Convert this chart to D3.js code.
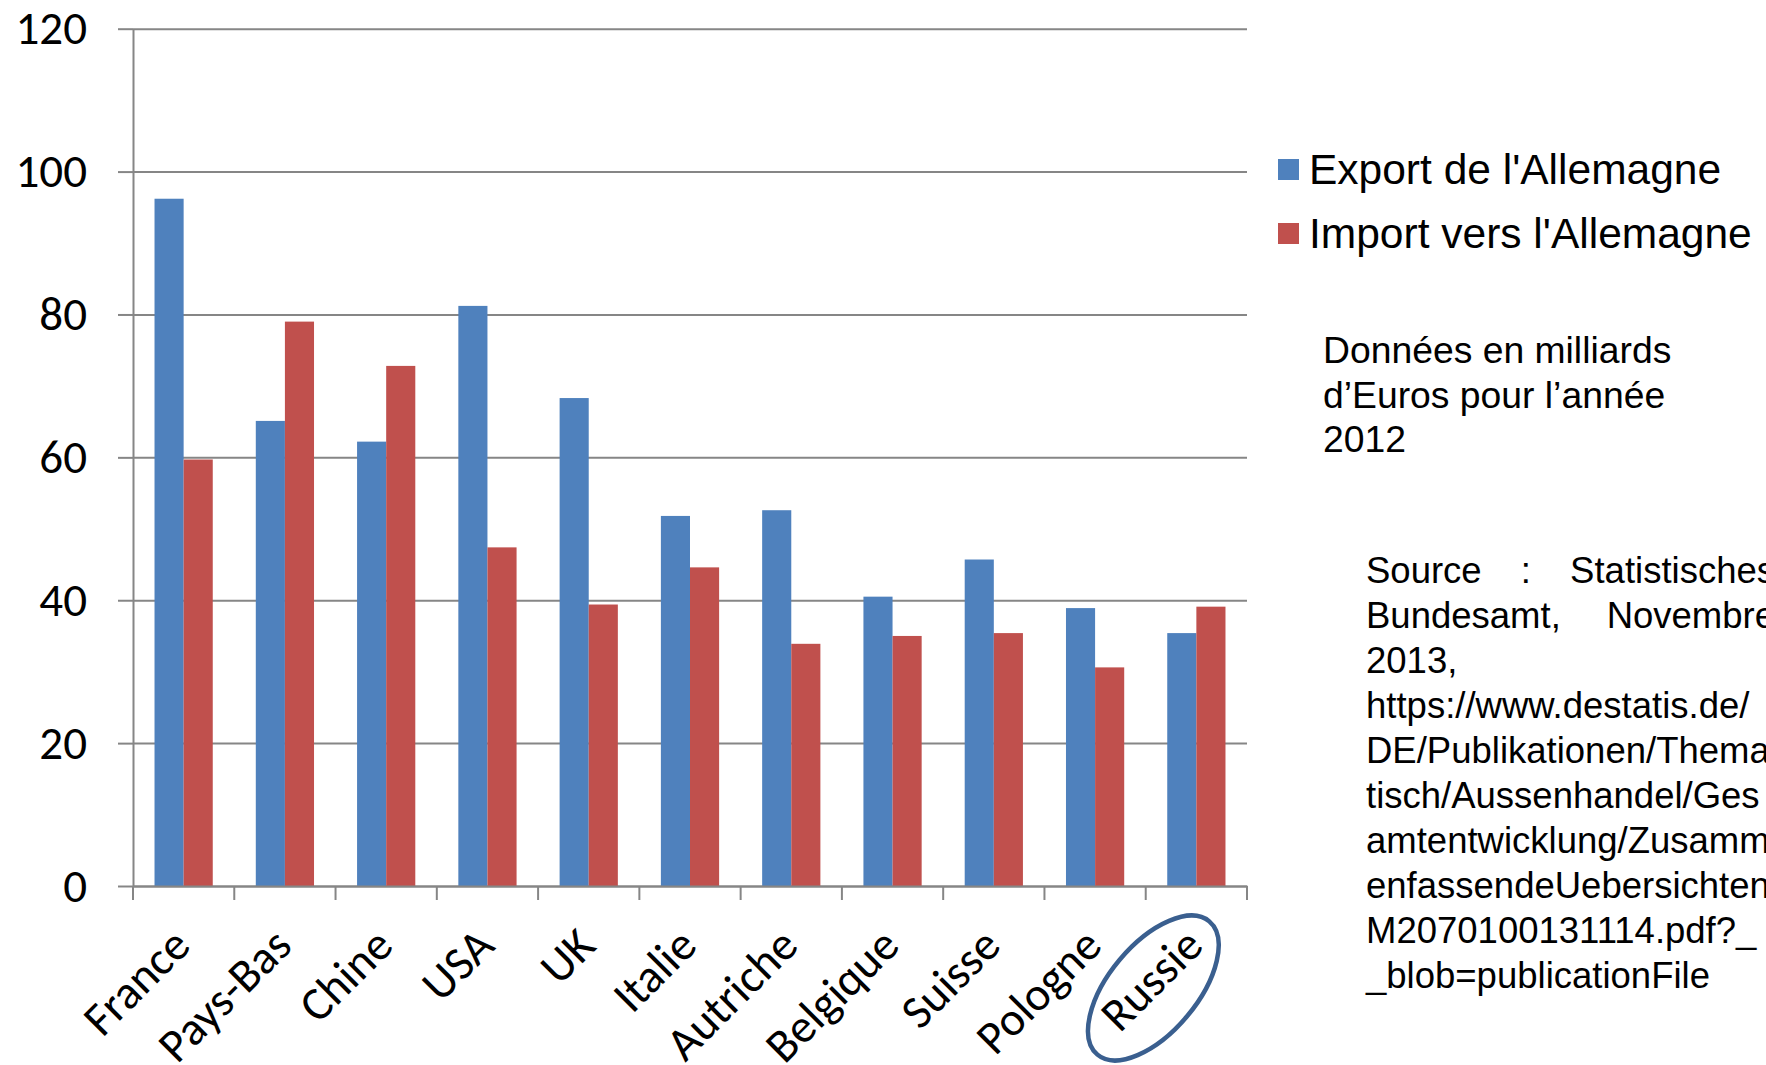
<html>
<head>
    <meta charset="utf-8">
    <title>Commerce extérieur de l'Allemagne 2012</title>
    <script src="https://d3js.org/d3.v7.min.js"></script>
    <style>
        body { margin: 0; background: #fff; }
        svg { display: block; }
        .axis path, .axis line { stroke: #868686; stroke-width: 2; }
        .tick-label { font-family: Calibri, Carlito, Lato, sans-serif; font-size: 47px; fill: #000; }
        .legend-text { font-family: Arial, "Liberation Sans", sans-serif; font-size: 42.5px; fill: #000; }
        .note { font-family: Arial, "Liberation Sans", sans-serif; font-size: 36.5px; fill: #000; }
    </style>
</head>
<body>
<div id="chart"></div>
<script>
    // data (milliards d'euros, 2012)
    var countries = ["France", "Pays-Bas", "Chine", "USA", "UK", "Italie", "Autriche", "Belgique", "Suisse", "Pologne", "Russie"];
    var exportValues = [96.2, 65.1, 62.2, 81.2, 68.3, 51.8, 52.6, 40.5, 45.7, 38.9, 35.4];
    var importValues = [59.7, 79.0, 72.8, 47.4, 39.4, 44.6, 33.9, 35.0, 35.4, 30.6, 39.1];
    var seriesNames = ["Export de l'Allemagne", "Import vers l'Allemagne"];
    var yTicks = [0, 20, 40, 60, 80, 100, 120];
    var noteLines = ["Données en milliards", "d’Euros pour l’année", "2012"];
    var sourceLines = [
        "Source : Statistisches",
        "Bundesamt, Novembre",
        "2013,",
        "https://www.destatis.de/",
        "DE/Publikationen/Thema",
        "tisch/Aussenhandel/Ges",
        "amtentwicklung/Zusamm",
        "enfassendeUebersichten",
        "M2070100131114.pdf?_",
        "_blob=publicationFile"
    ];
    var justifiedCount = 2;   // first lines of the source are justified
    var highlighted = "Russie";

    var W = 1766, H = 1065;
    var plotLeft = 133, plotRight = 1247, plotTop = 28.7, plotBottom = 886;
    var colors = ["#4F81BD", "#C0504D"];

    var svg = d3.select("#chart").append("svg")
        .attr("width", W)
        .attr("height", H);

    /* Scales */
    var x0 = d3.scaleBand()
        .domain(countries)
        .range([plotLeft, plotRight])
        .paddingInner(0.425)
        .paddingOuter(0.2125);
    var x1 = d3.scaleBand()
        .domain([0, 1])
        .range([0, x0.bandwidth()]);
    var y = d3.scaleLinear()
        .domain([0, 120])
        .range([plotBottom, plotTop]);

    /* Gridlines */
    svg.append("g")
        .attr("class", "axis grid")
        .attr("transform", `translate(${plotLeft},0)`)
        .call(d3.axisLeft(y).tickValues(yTicks).tickSize(-(plotRight - plotLeft)).tickFormat(""))
        .call(g => g.select(".domain").remove());

    /* Y axis */
    var yAxis = svg.append("g")
        .attr("class", "axis")
        .attr("transform", `translate(${plotLeft},0)`)
        .call(d3.axisLeft(y).tickValues(yTicks).tickSize(15).tickSizeOuter(0).tickPadding(31));
    yAxis.selectAll("text")
        .attr("class", "tick-label")
        .attr("font-size", null)
        .attr("font-family", null);

    /* Bars */
    var groups = svg.append("g")
        .selectAll("g")
        .data(countries.map((c, i) => ({ name: c, values: [exportValues[i], importValues[i]] })))
        .enter().append("g")
        .attr("transform", d => `translate(${x0(d.name)},0)`);
    groups.selectAll("rect")
        .data(d => d.values)
        .enter().append("rect")
        .attr("x", (d, i) => x1(i))
        .attr("y", d => y(d))
        .attr("width", x1.bandwidth())
        .attr("height", d => y(0) - y(d))
        .attr("fill", (d, i) => colors[i]);

    /* X axis */
    var xAxis = svg.append("g")
        .attr("class", "axis")
        .attr("transform", `translate(0,${plotBottom})`)
        .call(d3.axisBottom(x0).tickSize(0).tickSizeOuter(0));
    xAxis.selectAll(".tick text")
        .attr("class", "tick-label")
        .attr("font-size", null)
        .attr("font-family", null)
        .attr("y", null)
        .attr("dy", null)
        .attr("transform", "translate(9,62) rotate(-45)")
        .style("text-anchor", "end");
    xAxis.selectAll(".band-tick")
        .data(d3.range(countries.length + 1))
        .enter().append("line")
        .attr("class", "band-tick")
        .attr("x1", i => x0.range()[0] + i * x0.step())
        .attr("x2", i => x0.range()[0] + i * x0.step())
        .attr("y1", 0)
        .attr("y2", 14);

    /* Circle round Russie */
    var cx = x0(highlighted) + x0.bandwidth() / 2 - 43;
    svg.append("ellipse")
        .attr("transform", `translate(${cx},988) rotate(-50)`)
        .attr("rx", 87)
        .attr("ry", 44)
        .attr("fill", "none")
        .attr("stroke", "#3A5F8F")
        .attr("stroke-width", 4.5);

    /* Legend */
    var legend = svg.append("g")
        .attr("transform", "translate(1278,159)");
    var items = legend.selectAll("g")
        .data(seriesNames)
        .enter().append("g")
        .attr("transform", (d, i) => `translate(0,${i * 64})`);
    items.append("rect")
        .attr("width", 21)
        .attr("height", 21)
        .attr("fill", (d, i) => colors[i]);
    items.append("text")
        .attr("class", "legend-text")
        .attr("x", 31)
        .attr("y", 25)
        .text(d => d);

    /* Notes */
    svg.append("g")
        .selectAll("text")
        .data(noteLines)
        .enter().append("text")
        .attr("class", "note")
        .style("font-size", "37.3px")
        .attr("x", 1323)
        .attr("y", (d, i) => 363 + i * 44.5)
        .text(d => d);

    var boxLeft = 1366, boxRight = 1775;
    var src = svg.append("g");
    sourceLines.forEach(function(line, i) {
        var yy = 583 + i * 45;
        var words = line.split(" ");
        if (i < justifiedCount && words.length > 1) {
            var nodes = words.map(w => src.append("text").attr("class", "note").attr("y", yy).text(w));
            var widths = nodes.map(n => n.node().getComputedTextLength());
            var gap = (boxRight - boxLeft - d3.sum(widths)) / (words.length - 1);
            var pos = boxLeft;
            nodes.forEach(function(n, k) {
                n.attr("x", pos);
                pos += widths[k] + gap;
            });
        } else {
            src.append("text").attr("class", "note").attr("x", boxLeft).attr("y", yy).text(line);
        }
    });
</script>
</body>
</html>
